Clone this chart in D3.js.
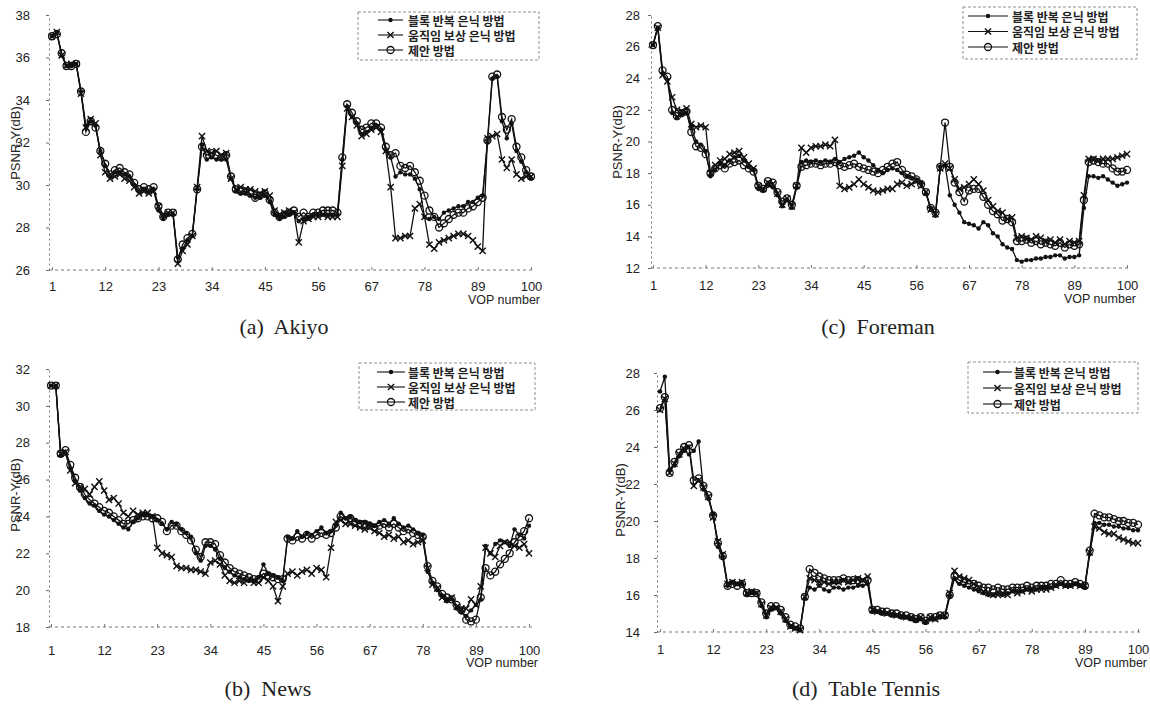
<!DOCTYPE html>
<html><head><meta charset="utf-8">
<script src="https://cdn.jsdelivr.net/npm/d3@7/dist/d3.min.js"></script>
<style>body{margin:0;background:#fff}svg{display:block}</style>
</head><body>
<svg id="chart" width="1150" height="708"></svg>
<script>
// ---------- DATA ----------
const frames = d3.range(1, 101);
const xTickValues = [1, 12, 23, 34, 45, 56, 67, 78, 89, 100];
const seriesNames = ["블록 반복 은닉 방법", "움직임 보상 은닉 방법", "제안 방법"];

const akiyoYTicks = [26, 28, 30, 32, 34, 36, 38];
const akiyoBlock = [37.0,37.2,36.1,35.6,35.6,35.7,34.4,32.8,33.0,32.8, 31.6,30.9,30.4,30.6,30.6,30.5,30.4,30.0,29.7,29.8,
 29.7,29.8,28.8,28.4,28.6,28.6,26.6,27.0,27.4,27.6, 29.8,31.9,31.2,31.3,31.2,31.2,31.2,30.3,29.7,29.6,
 29.6,29.5,29.4,29.4,29.5,29.2,28.6,28.4,28.5,28.6, 28.7,28.3,28.4,28.5,28.6,28.6,28.6,28.6,28.6,28.6,
 31.2,33.7,33.2,32.9,32.4,32.5,32.7,32.8,32.6,31.6, 31.3,30.4,30.6,30.5,30.5,30.3,29.8,28.5,28.4,28.5,
 28.4,28.7,28.8,28.9,29.0,29.0,29.2,29.2,29.4,29.5, 32.0,35.0,35.1,33.0,32.2,32.9,31.6,31.1,30.6,30.3];
const akiyoMotion = [37.0,37.2,36.1,35.6,35.7,35.7,34.3,32.7,33.1,32.9, 31.4,30.6,30.3,30.4,30.5,30.3,30.2,29.9,29.6,29.7,
 29.6,29.7,29.0,28.6,28.7,28.7,26.3,26.9,27.2,27.6, 29.9,32.3,31.6,31.5,31.6,31.4,31.5,30.3,29.8,29.9,
 29.8,29.8,29.7,29.6,29.7,29.5,28.8,28.6,28.7,28.8, 28.7,27.3,28.3,28.4,28.5,28.5,28.6,28.5,28.5,28.5,
 30.9,33.6,33.2,32.8,32.3,32.4,32.6,32.7,32.5,31.6, 29.9,27.5,27.5,27.6,27.6,28.9,29.1,28.5,27.2,27.0,
 27.3,27.4,27.5,27.6,27.7,27.7,27.6,27.4,27.1,26.9, 32.2,32.3,32.4,31.2,30.8,31.2,30.5,30.3,30.4,30.4];
const akiyoProposed = [37.0,37.1,36.2,35.6,35.6,35.7,34.4,32.5,33.0,32.7, 31.6,31.0,30.5,30.7,30.8,30.6,30.5,30.1,29.8,29.9,
 29.8,29.9,29.0,28.5,28.7,28.7,26.5,27.2,27.5,27.7, 29.8,31.8,31.4,31.5,31.4,31.3,31.4,30.4,29.8,29.7,
 29.7,29.6,29.4,29.5,29.6,29.3,28.7,28.5,28.6,28.7, 28.8,28.5,28.7,28.5,28.7,28.7,28.8,28.8,28.8,28.7,
 31.3,33.8,33.4,33.0,32.6,32.7,32.9,32.9,32.7,31.8, 31.4,31.5,30.9,30.8,30.9,30.6,30.2,29.5,28.8,28.5,
 28.0,28.2,28.4,28.6,28.7,28.7,28.9,29.0,29.2,29.4, 32.1,35.1,35.2,33.2,32.6,33.1,31.8,31.3,30.7,30.4];

const newsYTicks = [18, 20, 22, 24, 26, 28, 30, 32];
const newsBlock = [31.1,31.1,27.3,27.4,26.6,25.9,25.4,25.0,24.7,24.6, 24.3,24.1,24.0,23.8,23.6,23.4,23.3,23.7,23.9,24.1,
 24.1,24.0,23.8,23.6,23.3,23.7,23.6,23.3,23.1,22.9, 22.0,21.6,22.4,22.4,22.2,21.7,21.2,21.0,20.8,20.7,
 20.6,20.5,20.5,20.7,21.4,20.9,20.8,20.7,20.5,22.9, 22.8,23.2,22.9,23.1,23.0,23.2,23.4,23.1,23.2,23.5,
 24.2,23.9,24.0,23.8,23.7,23.7,23.6,23.5,23.7,23.8, 23.6,23.9,23.6,23.4,23.5,23.3,23.1,23.0,21.0,20.4,
 20.0,19.7,19.4,19.5,19.0,18.8,18.6,18.9,19.2,19.5, 22.4,22.0,22.5,22.7,22.6,22.4,23.3,23.0,22.8,23.5];
const newsMotion = [31.1,31.1,27.4,27.5,26.5,25.8,25.6,25.5,25.2,25.6, 25.9,25.4,24.9,25.0,24.7,24.2,24.0,24.3,24.1,24.2,
 24.2,24.0,22.3,22.0,21.9,21.8,21.3,21.2,21.2,21.1, 21.1,21.0,20.9,21.5,21.6,21.4,20.8,20.5,20.4,20.5,
 20.4,20.6,20.4,20.4,20.7,20.5,20.2,19.4,20.2,20.9, 21.0,20.8,21.0,21.1,20.9,21.2,21.1,20.7,22.3,23.7,
 23.8,23.6,23.6,23.5,23.4,23.3,23.4,23.2,23.1,22.9, 23.0,22.8,22.9,22.6,22.7,22.5,22.6,22.7,21.2,20.3,
 20.1,19.6,19.5,19.6,19.1,19.0,19.0,19.5,19.2,20.2, 22.3,22.0,21.8,22.4,22.6,22.6,22.4,22.3,22.5,22.0];
const newsProposed = [31.1,31.1,27.4,27.6,26.8,26.1,25.6,25.2,24.9,24.7, 24.5,24.3,24.2,24.0,23.8,23.6,23.6,23.8,23.9,24.0,
 24.0,23.9,23.9,23.7,23.2,23.5,23.5,23.2,23.0,22.7, 22.2,21.8,22.6,22.6,22.5,21.9,21.5,21.2,21.0,20.9,
 20.8,20.7,20.6,20.6,20.9,20.8,20.7,20.6,20.6,22.8, 22.7,22.9,22.8,23.0,22.8,23.0,23.1,23.0,23.1,23.4,
 24.0,23.8,23.9,23.7,23.6,23.6,23.5,23.4,23.5,23.6, 23.4,23.6,23.4,23.2,23.3,23.1,23.0,22.9,21.3,20.5,
 20.2,19.8,19.6,19.5,19.2,18.9,18.4,18.3,18.4,19.6, 21.2,20.8,21.0,21.4,21.7,22.0,22.6,22.9,23.2,23.9];

const foremanYTicks = [12, 14, 16, 18, 20, 22, 24, 26, 28];
const foremanBlock = [26.1,27.2,24.3,23.9,21.8,21.5,21.7,21.8,20.9,20.0, 19.8,19.4,17.8,18.2,18.6,18.5,18.8,19.0,19.1,18.8,
 18.4,18.2,17.0,16.9,17.2,17.1,16.6,15.9,16.3,15.8, 17.1,18.7,18.8,18.7,18.8,18.7,18.8,18.7,18.9,18.7,
 18.9,19.0,19.1,19.3,19.0,18.8,18.5,18.2,18.0,18.2, 18.3,18.2,18.0,17.8,17.7,17.6,17.4,16.7,15.8,15.3,
 18.4,18.5,16.6,16.0,15.5,14.9,14.8,14.7,14.5,14.9, 14.7,14.2,14.0,13.5,13.3,13.2,12.5,12.4,12.5,12.5,
 12.6,12.6,12.7,12.7,12.8,12.8,12.6,12.7,12.7,12.8, 15.8,17.8,17.8,17.7,17.8,17.6,17.4,17.2,17.3,17.4];
const foremanMotion = [26.1,27.2,24.2,23.8,22.8,22.0,21.9,22.1,21.1,20.9, 21.0,20.9,18.0,18.5,18.8,18.9,19.2,19.3,19.4,19.0,
 18.6,18.3,17.2,17.0,17.4,17.3,16.7,16.0,16.4,15.9, 17.2,19.6,19.3,19.6,19.7,19.7,19.8,19.7,20.1,17.2,
 17.0,17.1,17.3,17.6,17.3,17.1,16.9,16.8,16.9,17.0, 17.0,17.3,17.4,17.2,17.3,17.5,17.2,16.8,15.7,15.4,
 18.3,18.6,18.3,17.6,17.0,17.1,17.3,17.6,17.3,16.9, 16.3,15.9,15.6,15.5,15.1,15.2,13.9,14.0,13.9,13.8,
 14.0,13.9,13.7,13.8,13.6,13.8,13.5,13.7,13.6,13.7, 16.6,18.9,18.9,18.8,18.9,18.9,18.9,19.0,19.1,19.2];
const foremanProposed = [26.1,27.3,24.5,24.1,22.0,21.6,21.8,21.9,20.6,19.7, 19.6,19.2,18.0,18.3,18.5,18.3,18.6,18.7,18.8,18.5,
 18.3,18.1,17.2,17.0,17.5,17.4,16.8,16.2,16.4,16.0, 17.2,18.4,18.5,18.6,18.6,18.5,18.6,18.6,18.7,18.5,
 18.4,18.5,18.6,18.4,18.3,18.2,18.1,18.0,18.2,18.4, 18.6,18.7,18.2,17.9,17.8,17.6,17.3,16.8,15.8,15.5,
 18.4,21.2,18.4,17.4,16.8,16.2,16.9,17.0,17.0,16.5, 16.0,15.6,15.4,15.0,15.1,14.9,13.7,13.7,13.8,13.6,
 13.7,13.5,13.6,13.5,13.4,13.6,13.3,13.5,13.4,13.5, 16.3,18.7,18.8,18.7,18.6,18.6,18.3,18.1,18.1,18.2];

const tennisYTicks = [14, 16, 18, 20, 22, 24, 26, 28];
const tennisBlock = [27.0,27.8,22.8,23.0,23.5,23.8,23.6,23.8,24.3,21.7, 21.2,20.4,18.6,18.0,16.5,16.7,16.6,16.6,16.0,16.1,
 16.1,15.4,14.8,15.2,15.3,15.0,14.6,14.3,14.2,14.1, 15.8,16.4,16.3,16.5,16.3,16.2,16.4,16.4,16.3,16.4,
 16.4,16.5,16.5,16.6,15.1,15.1,15.0,15.0,14.9,14.9, 14.8,14.8,14.7,14.6,14.7,14.5,14.7,14.7,14.8,14.8,
 15.9,16.9,16.6,16.5,16.4,16.3,16.2,16.1,16.0,16.0, 16.1,16.0,16.1,16.2,16.2,16.2,16.3,16.3,16.3,16.4,
 16.4,16.4,16.5,16.6,16.5,16.5,16.6,16.5,16.4,18.2, 19.9,19.9,19.8,19.8,19.7,19.7,19.6,19.6,19.5,19.5];
const tennisMotion = [26.0,26.6,22.6,23.1,23.6,23.9,24.0,21.9,22.2,21.8, 21.3,20.2,18.9,18.2,16.6,16.7,16.6,16.7,16.1,16.2,
 16.1,15.5,14.9,15.3,15.3,15.1,14.7,14.3,14.2,14.1, 15.9,16.9,16.8,16.7,16.7,16.6,16.7,16.7,16.8,16.7,
 16.8,16.9,16.8,17.0,15.2,15.1,15.1,15.0,15.0,14.9, 14.9,14.8,14.8,14.7,14.8,14.6,14.8,14.7,14.9,14.9,
 16.1,17.3,17.0,16.9,16.8,16.6,16.4,16.2,16.1,16.0, 16.0,16.1,16.0,16.2,16.1,16.2,16.3,16.2,16.3,16.3,
 16.3,16.4,16.5,16.6,16.5,16.5,16.6,16.5,16.5,18.3, 19.7,19.6,19.4,19.3,19.3,19.1,19.0,18.9,18.8,18.8];
const tennisProposed = [26.1,26.7,22.6,23.2,23.7,24.0,24.1,22.2,22.3,21.9, 21.4,20.3,18.8,18.1,16.5,16.6,16.5,16.6,16.1,16.1,
 16.1,15.6,15.0,15.4,15.4,15.2,14.8,14.4,14.3,14.2, 15.9,17.4,17.2,17.0,16.9,16.8,16.8,16.8,16.9,16.8,
 16.8,16.8,16.7,16.8,15.2,15.2,15.1,15.1,15.0,15.0, 14.9,14.9,14.8,14.7,14.8,14.6,14.8,14.8,14.9,14.9,
 16.0,17.0,16.8,16.7,16.6,16.6,16.5,16.4,16.4,16.3, 16.4,16.3,16.3,16.4,16.4,16.4,16.5,16.4,16.5,16.5,
 16.5,16.6,16.6,16.8,16.6,16.6,16.7,16.6,16.5,18.4, 20.4,20.3,20.2,20.2,20.1,20.0,20.0,19.9,19.9,19.8];

// ---------- LAYOUT ----------
const panels = [
  {series:[akiyoBlock, akiyoMotion, akiyoProposed], yTicks:akiyoYTicks, yDom:[26,38],
   xr:[52,531], yr:[270,15], axisX:49, yPad:16, xLabY:286, vopY:304, yLab:[15,143],
   leg:{x:358,y:12,w:181,h:48,r0:20,dy:15,l0:378,l1:403,tx:408}, cap:{t:"(a)  Akiyo", x:284, y:334}},
  {series:[newsBlock, newsMotion, newsProposed], yTicks:newsYTicks, yDom:[18,32],
   xr:[51,529], yr:[627,369], axisX:49, yPad:16, xLabY:650, vopY:667, yLab:[15,495],
   leg:{x:359,y:363,w:176,h:47,r0:372,dy:15,l0:377,l1:405,tx:408}, cap:{t:"(b)  News", x:268, y:696}},
  {series:[foremanBlock, foremanMotion, foremanProposed], yTicks:foremanYTicks, yDom:[12,28],
   xr:[653,1127], yr:[268,15], axisX:651, yPad:8, xLabY:285, vopY:303, yLab:[617,142],
   leg:{x:963,y:7,w:174,h:52,r0:16,dy:15.5,l0:968,l1:1008,tx:1012}, cap:{t:"(c)  Foreman", x:878, y:334}},
  {series:[tennisBlock, tennisMotion, tennisProposed], yTicks:tennisYTicks, yDom:[14,28],
   xr:[660,1138], yr:[632,373], axisX:657, yPad:14, xLabY:649, vopY:667, yLab:[620,500],
   leg:{x:968,y:362,w:170,h:51,r0:372,dy:16,l0:983,l1:1012,tx:1014}, cap:{t:"(d)  Table Tennis", x:866, y:696}}
];

const svg = d3.select("#chart");
const sansFont = "'Liberation Sans', Arial, sans-serif";
const ink = "#111";

function marker(g, kind, cx, cy) {
  if (kind === 0) {
    g.append("circle").attr("cx", cx).attr("cy", cy).attr("r", 2.2).attr("fill", ink);
  } else if (kind === 1) {
    const s = 3.1;
    g.append("path").attr("d", `M${cx-s},${cy-s}L${cx+s},${cy+s}M${cx-s},${cy+s}L${cx+s},${cy-s}`)
      .attr("stroke", ink).attr("stroke-width", 1.4).attr("fill", "none");
  } else {
    g.append("circle").attr("cx", cx).attr("cy", cy).attr("r", 3.5)
      .attr("fill", "none").attr("stroke", ink).attr("stroke-width", 1.3);
  }
}

panels.forEach(p => {
  const x = d3.scaleLinear().domain([1, 100]).range(p.xr);
  const y = d3.scaleLinear().domain(p.yDom).range(p.yr);
  const g = svg.append("g");

  // left axis
  const ya = g.append("g").attr("transform", `translate(${p.axisX},0)`)
    .call(d3.axisLeft(y).tickValues(p.yTicks).tickSize(3).tickPadding(p.yPad).tickSizeOuter(0));
  ya.select(".domain").attr("stroke", "#777").attr("stroke-dasharray", "2,3");
  ya.selectAll(".tick line").attr("stroke", "#666");
  ya.selectAll(".tick text").attr("font-family", sansFont).attr("font-size", 13).attr("fill", "#222");

  // bottom axis
  const xa = g.append("g").attr("transform", `translate(0,${p.yr[0]})`)
    .call(d3.axisBottom(x).tickValues(xTickValues).tickSize(3).tickSizeOuter(0));
  xa.select(".domain").attr("stroke", "#777").attr("stroke-dasharray", "3,3")
    .attr("d", `M${p.axisX},0H${p.xr[1]+4}`);
  xa.selectAll(".tick line").attr("stroke", "#777").attr("y1", -3).attr("y2", 0);
  xa.selectAll(".tick text").attr("font-family", sansFont).attr("font-size", 13).attr("fill", "#222")
    .attr("dy", null).attr("y", p.xLabY - p.yr[0] + 5);

  g.append("text").attr("x", p.xr[1] + 9).attr("y", p.vopY).attr("text-anchor", "end")
    .attr("font-family", sansFont).attr("font-size", 12.5).attr("fill", "#222").text("VOP number");

  g.append("text").attr("transform", `translate(${p.yLab[0]},${p.yLab[1]}) rotate(-90)`)
    .attr("text-anchor", "middle").attr("dominant-baseline", "central")
    .attr("font-family", sansFont).attr("font-size", 13).attr("fill", "#222").text("PSNR-Y(dB)");

  // series
  const line = d3.line().x((d, i) => x(frames[i])).y(d => y(d));
  p.series.forEach((vals, k) => {
    const sg = g.append("g");
    sg.append("path").datum(vals).attr("d", line).attr("fill", "none")
      .attr("stroke", ink).attr("stroke-width", 1.3);
    vals.forEach((v, i) => marker(sg, k, x(frames[i]), y(v)));
  });

  // legend
  const L = p.leg;
  g.append("rect").attr("x", L.x).attr("y", L.y).attr("width", L.w).attr("height", L.h)
    .attr("fill", "#fff").attr("stroke", "#777").attr("stroke-width", 0.8).attr("stroke-dasharray", "3,2");
  seriesNames.forEach((name, k) => {
    const ry = L.r0 + k * L.dy;
    g.append("line").attr("x1", L.l0).attr("x2", L.l1).attr("y1", ry).attr("y2", ry)
      .attr("stroke", ink).attr("stroke-width", 1.1);
    marker(g, k, (L.l0 + L.l1) / 2, ry);
    g.append("text").attr("x", L.tx).attr("y", ry).attr("dominant-baseline", "central")
      .attr("font-family", "'Noto Sans CJK KR', sans-serif").attr("font-size", 12)
      .attr("font-weight", 700).attr("fill", "#222").text(name);
  });

  // caption
  g.append("text").attr("x", p.cap.x).attr("y", p.cap.y).attr("text-anchor", "middle")
    .attr("font-family", "'Liberation Serif', 'Times New Roman', serif").attr("font-size", 22)
    .attr("fill", "#222").attr("xml:space", "preserve").style("white-space", "pre").text(p.cap.t);
});
</script>
</body></html>
